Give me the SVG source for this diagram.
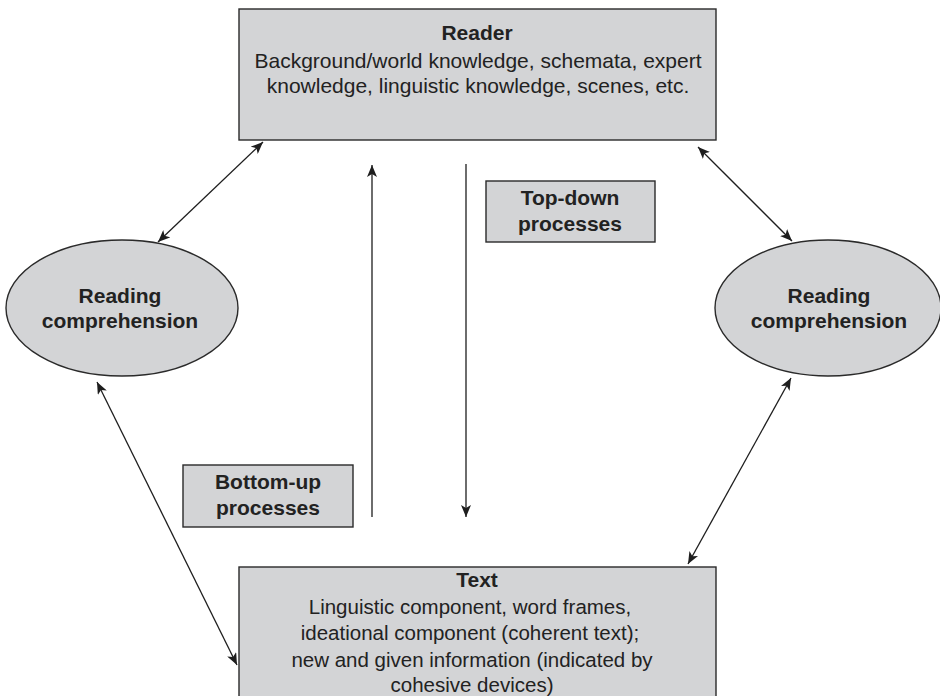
<svg xmlns="http://www.w3.org/2000/svg" width="940" height="696" viewBox="0 0 940 696">
  <style>
    .box { fill: #d3d4d6; stroke: #2a2a2a; stroke-width: 1.4; }
    .title { font-family: "Liberation Sans", Arial, sans-serif; font-weight: bold; font-size: 21px; fill: #222; text-anchor: middle; }
    .body { font-family: "Liberation Sans", Arial, sans-serif; font-size: 21px; fill: #222; text-anchor: middle; }
    .small { font-size: 20.5px; }
    .link { stroke: #1e1e1e; stroke-width: 1.3; fill: none; }
  </style>
  <defs>
    <marker id="head" viewBox="0 0 12 10" refX="12" refY="5" markerWidth="12" markerHeight="10" markerUnits="userSpaceOnUse" orient="auto-start-reverse">
      <path d="M0,0 L12,5 L0,10 L3,5 Z" fill="#1e1e1e"/>
    </marker>
  </defs>
  <rect width="940" height="696" fill="#ffffff"/>

  <g id="reader">
    <rect class="box" x="239" y="9" width="477" height="131"/>
    <text class="title" x="477" y="40">Reader</text>
    <text class="body" x="478" y="68">Background/world knowledge, schemata, expert</text>
    <text class="body" x="478" y="93">knowledge, linguistic knowledge, scenes, etc.</text>
  </g>

  <g id="comprehension-left">
    <ellipse class="box" cx="122" cy="308" rx="116" ry="68"/>
    <text class="title" x="120" y="303">Reading</text>
    <text class="title" x="120" y="328">comprehension</text>
  </g>

  <g id="comprehension-right">
    <ellipse class="box" cx="828" cy="308" rx="113" ry="68"/>
    <text class="title" x="829" y="303">Reading</text>
    <text class="title" x="829" y="328">comprehension</text>
  </g>

  <g id="top-down">
    <rect class="box" x="486" y="181" width="169" height="61"/>
    <text class="title" x="570" y="205">Top-down</text>
    <text class="title" x="570" y="231">processes</text>
  </g>

  <g id="bottom-up">
    <rect class="box" x="183" y="465" width="170" height="62"/>
    <text class="title" x="268" y="489">Bottom-up</text>
    <text class="title" x="268" y="515">processes</text>
  </g>

  <g id="text">
    <rect class="box" x="239" y="567" width="477" height="140"/>
    <text class="title" x="477" y="587">Text</text>
    <text class="body small" x="470" y="614">Linguistic component, word frames,</text>
    <text class="body small" x="470" y="640">ideational component (coherent text);</text>
    <text class="body small" x="472" y="667">new and given information (indicated by</text>
    <text class="body small" x="472" y="692">cohesive devices)</text>
  </g>

  <g id="connectors">
    <line class="link" x1="158" y1="242" x2="263" y2="142" marker-start="url(#head)" marker-end="url(#head)"/>
    <line class="link" x1="698" y1="147" x2="792" y2="241" marker-start="url(#head)" marker-end="url(#head)"/>
    <line class="link" x1="791" y1="378" x2="688" y2="564" marker-start="url(#head)" marker-end="url(#head)"/>
    <line class="link" x1="97" y1="382" x2="237" y2="665" marker-start="url(#head)" marker-end="url(#head)"/>
    <line class="link" x1="372" y1="517" x2="372" y2="165" marker-end="url(#head)"/>
    <line class="link" x1="466" y1="164" x2="466" y2="517" marker-end="url(#head)"/>
  </g>
</svg>
